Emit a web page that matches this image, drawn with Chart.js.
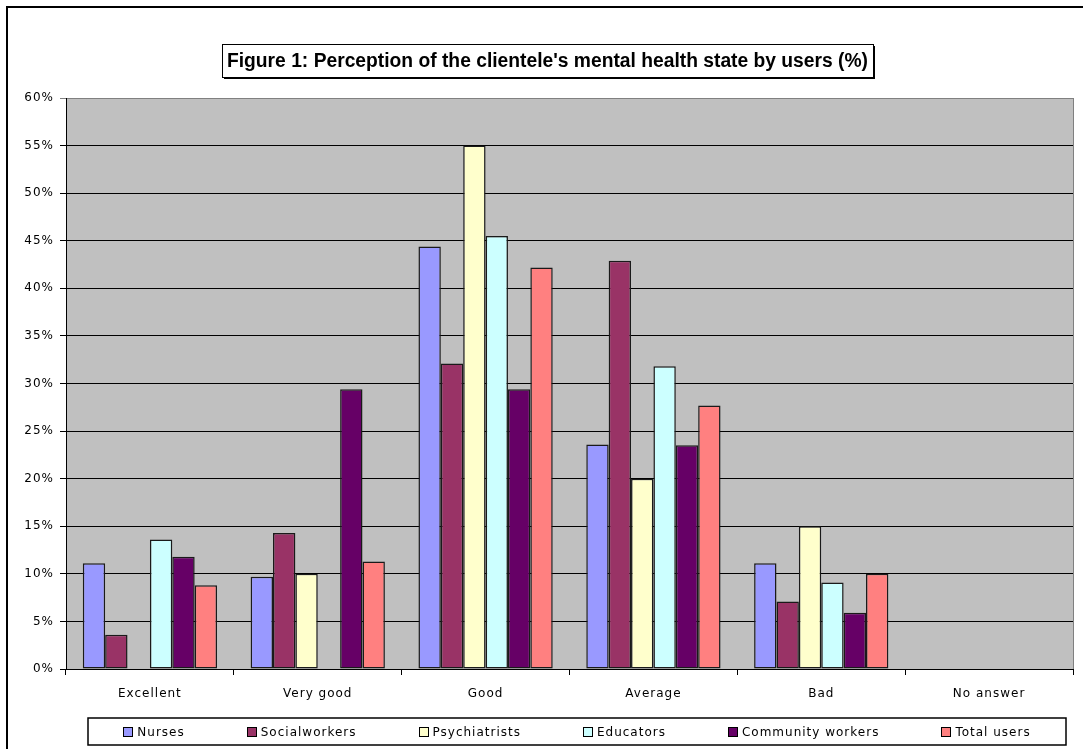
<!DOCTYPE html>
<html>
<head>
<meta charset="utf-8">
<title>Perception of the clientele's mental health state by users</title>
<script src="https://cdn.jsdelivr.net/npm/chart.js@4/dist/chart.umd.min.js"></script>
<style>
  html, body { margin: 0; padding: 0; background: #ffffff; }
  canvas { display: block; }
</style>
</head>
<body>
<canvas id="chart" width="1083" height="749"></canvas>
<script>
// Answer categories along the horizontal axis
const categories = ['Excellent', 'Very good', 'Good', 'Average', 'Bad', 'No answer'];

// Share of respondents (%) per group
const nurses         = [11.1, 9.7, 44.4, 23.6, 11.1, 0];
const socialWorkers  = [3.6, 14.3, 32.1, 42.9, 7.1, 0];
const psychiatrists  = [0, 10.0, 55.0, 20.0, 15.0, 0];
const educators      = [13.6, 0, 45.5, 31.8, 9.1, 0];
const communityWork  = [11.8, 29.4, 29.4, 23.5, 5.9, 0];
const totalUsers     = [8.8, 11.3, 42.2, 27.7, 10.0, 0];

const seriesNames  = ['Nurses', 'Socialworkers', 'Psychiatrists', 'Educators', 'Community workers', 'Total users'];
const seriesColors = ['#9999FF', '#993366', '#FFFFCC', '#CCFFFF', '#660066', '#FF8080'];

// Value axis: 0% to 60% in steps of 5
const yMin = 0, yMax = 60, yStep = 5;
const titleText = "Figure 1: Perception of the clientele's mental health state by users (%)";

const seriesValues = [nurses, socialWorkers, psychiatrists, educators, communityWork, totalUsers];

const TEXT_FONT = '"DejaVu Sans", Verdana, sans-serif';

// Gray plot area, outer frame, title box and legend box
const framePlugin = {
  id: 'frame',
  beforeDraw(chart) {
    const { ctx, chartArea: a } = chart;
    ctx.save();
    ctx.fillStyle = '#ffffff';
    ctx.fillRect(0, 0, chart.width, chart.height);
    ctx.fillStyle = '#C0C0C0';
    ctx.fillRect(a.left, a.top, a.right - a.left, a.bottom - a.top);
    ctx.restore();
    ctx.letterSpacing = '1px';
  },
  afterDatasetsDraw(chart) {
    const { ctx, chartArea: a } = chart;
    ctx.save();
    ctx.strokeStyle = '#808080';
    ctx.lineWidth = 1;
    ctx.beginPath();
    ctx.moveTo(Math.round(a.right) + 0.5, a.top);
    ctx.lineTo(Math.round(a.right) + 0.5, a.bottom);
    ctx.stroke();
    ctx.restore();
  },
  afterDraw(chart) {
    const { ctx } = chart;
    ctx.save();
    ctx.letterSpacing = '0px';

    // outer chart frame
    ctx.strokeStyle = '#000000';
    ctx.lineWidth = 2;
    ctx.strokeRect(7, 7, chart.width + 20, chart.height + 20);

    // title box with drop shadow
    const bx = 222, by = 44, bw = 651, bh = 33;
    ctx.fillStyle = '#000000';
    ctx.fillRect(bx + 2, by + 2, bw, bh);
    ctx.fillStyle = '#ffffff';
    ctx.fillRect(bx, by, bw, bh);
    ctx.strokeStyle = '#000000';
    ctx.lineWidth = 1;
    ctx.strokeRect(bx + 0.5, by + 0.5, bw, bh);

    ctx.font = 'bold 20px "Liberation Sans", Arial, sans-serif';
    const tw = ctx.measureText(titleText).width;
    const target = bw - 10;
    ctx.save();
    ctx.translate(bx + bw / 2, by + bh / 2 + 1);
    ctx.scale(target / tw, 1);
    ctx.fillStyle = '#000000';
    ctx.textAlign = 'center';
    ctx.textBaseline = 'middle';
    ctx.fillText(titleText, 0, 0);
    ctx.restore();

    // legend box
    const lx = 88, ly = 718, lw = 978, lh = 27;
    ctx.fillStyle = '#ffffff';
    ctx.fillRect(lx, ly, lw, lh);
    ctx.strokeStyle = '#000000';
    ctx.lineWidth = 1.5;
    ctx.strokeRect(lx, ly, lw, lh);

    ctx.font = '12px ' + TEXT_FONT;
    ctx.letterSpacing = '1px';
    const sq = 10, sqGap = 4, itemGap = 62;
    const items = chart.data.datasets.map(ds => ({
      label: ds.label, color: ds.backgroundColor,
      w: sq + sqGap + ctx.measureText(ds.label).width
    }));
    const totalW = items.reduce((s, it) => s + it.w, 0) + itemGap * (items.length - 1);
    let x = lx + (lw - totalW) / 2;
    const cy = ly + lh / 2;
    items.forEach(it => {
      ctx.fillStyle = it.color;
      ctx.fillRect(Math.round(x), Math.round(cy - sq / 2), sq, sq);
      ctx.strokeStyle = '#000000';
      ctx.lineWidth = 1;
      ctx.strokeRect(Math.round(x) + 0.5, Math.round(cy - sq / 2) + 0.5, sq - 1, sq - 1);
      ctx.fillStyle = '#000000';
      ctx.textAlign = 'left';
      ctx.textBaseline = 'middle';
      ctx.fillText(it.label, x + sq + sqGap, cy + 1);
      x += it.w + itemGap;
    });
    ctx.restore();
  }
};

const datasets = seriesNames.map((name, i) => ({
  label: name,
  data: seriesValues[i],
  backgroundColor: seriesColors[i],
  borderColor: '#1a1a1a',
  borderWidth: 1.5,
  borderSkipped: false,
  categoryPercentage: 0.8,
  barPercentage: 1.0
}));

new Chart(document.getElementById('chart'), {
  type: 'bar',
  data: { labels: categories, datasets },
  plugins: [framePlugin],
  options: {
    responsive: false,
    animation: false,
    devicePixelRatio: 1,
    layout: { padding: { left: 0, right: 10, top: 98, bottom: 0 } },
    plugins: {
      legend: { display: false },
      title: { display: false },
      tooltip: { enabled: false }
    },
    scales: {
      x: {
        afterFit(scale) { scale.height = 80; },
        grid: {
          offset: true,
          drawOnChartArea: false,
          drawTicks: true,
          tickLength: 6,
          color: '#000000',
          lineWidth: 1
        },
        border: { display: true, color: '#000000', width: 1 },
        ticks: {
          color: '#000000',
          padding: 12,
          maxRotation: 0,
          font: { family: TEXT_FONT, size: 12 }
        }
      },
      y: {
        min: yMin,
        max: yMax,
        afterFit(scale) { scale.width = 66; },
        grid: {
          color: ctx => (ctx.tick && ctx.tick.value === yMax ? '#808080' : '#000000'),
          lineWidth: 1,
          drawTicks: true,
          tickLength: 6
        },
        border: { display: true, color: '#000000', width: 1 },
        ticks: {
          stepSize: yStep,
          color: '#000000',
          padding: 6,
          font: { family: TEXT_FONT, size: 12 },
          callback: v => v + '%'
        }
      }
    }
  }
});
</script>
</body>
</html>
